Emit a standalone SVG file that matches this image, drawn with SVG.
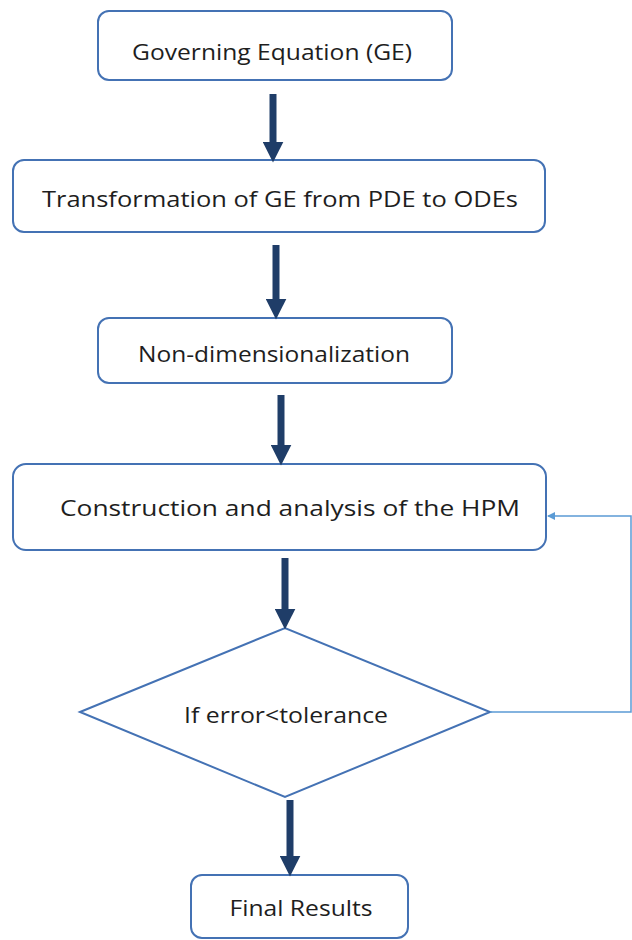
<svg xmlns="http://www.w3.org/2000/svg" width="632" height="940" viewBox="0 0 632 940">
<style>
.box{fill:#fff;stroke:#4472b4;stroke-width:2}
.t{font-family:"Open Sans","Liberation Sans",sans-serif;font-size:22.5px;fill:#1e1e1e;text-anchor:middle}
.flow{stroke:#1f3d68;stroke-width:7;fill:none}
.fb{stroke:#5b9bd5;stroke-width:1.5;fill:none}
</style>
<defs>
<marker id="ah" markerWidth="3" markerHeight="3" refX="1.2" refY="1.5" orient="auto" markerUnits="strokeWidth" viewBox="0 0 3 3">
<path d="M0,0 L3,1.5 L0,3 Z" fill="#1f3d68"/>
</marker>
<marker id="ah2" markerWidth="8" markerHeight="8" refX="7" refY="4" orient="auto" markerUnits="userSpaceOnUse" viewBox="0 0 8 8">
<path d="M0,0 L8,4 L0,8 Z" fill="#5b9bd5"/>
</marker>
</defs>
<g id="n1"><rect class="box" x="98" y="11" width="354" height="69" rx="11"/><text class="t" x="272" y="60" textLength="280" lengthAdjust="spacingAndGlyphs">Governing Equation (GE)</text></g>
<g id="n2"><rect class="box" x="13" y="160" width="532" height="72" rx="11"/><text class="t" x="280" y="207" textLength="476" lengthAdjust="spacingAndGlyphs">Transformation of GE from PDE to ODEs</text></g>
<g id="n3"><rect class="box" x="98" y="318" width="354" height="65" rx="11"/><text class="t" x="274" y="362" textLength="272" lengthAdjust="spacingAndGlyphs">Non-dimensionalization</text></g>
<g id="n4"><rect class="box" x="13" y="464" width="533" height="86" rx="13"/><text class="t" x="290" y="516" textLength="460" lengthAdjust="spacingAndGlyphs">Construction and analysis of the HPM</text></g>
<g id="n5"><polygon class="box" points="80,712 285,628 490,712 285,797"/><text class="t" x="286" y="723" textLength="204" lengthAdjust="spacingAndGlyphs">If error&lt;tolerance</text></g>
<g id="n6"><rect class="box" x="191" y="875" width="217" height="63" rx="11"/><text class="t" x="301" y="916" textLength="143" lengthAdjust="spacingAndGlyphs">Final Results</text></g>
<g id="connectors">
<line class="flow" x1="273" y1="94" x2="273" y2="150" marker-end="url(#ah)"/>
<line class="flow" x1="276" y1="245" x2="276" y2="307" marker-end="url(#ah)"/>
<line class="flow" x1="281" y1="395" x2="281" y2="453" marker-end="url(#ah)"/>
<line class="flow" x1="285" y1="558" x2="285" y2="617" marker-end="url(#ah)"/>
<line class="flow" x1="290" y1="800" x2="290" y2="864" marker-end="url(#ah)"/>
<polyline class="fb" points="490,712 631,712 631,516 548,516" marker-end="url(#ah2)"/>
</g>
</svg>
